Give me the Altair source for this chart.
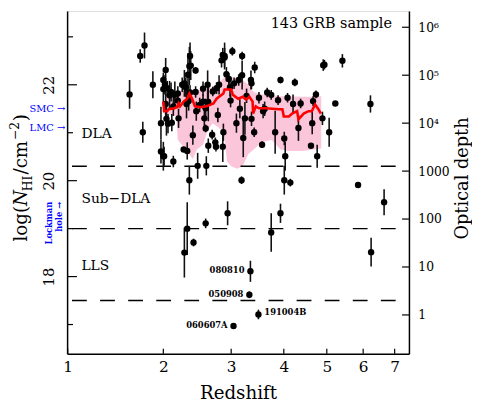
import json
import altair as alt
import pandas as pd

# ---------------- data ----------------
z_vals = [1.60, 1.72, 1.77, 1.75, 1.87, 1.97, 1.97, 2.00, 2.01, 2.00, 2.00, 2.02, 2.03, 2.04, 2.06, 2.05,
          2.08, 2.11, 2.13, 2.15, 2.20, 2.19, 2.27, 2.28, 2.32, 2.33, 2.35, 2.36, 2.36, 2.34, 2.40, 2.35,
          2.32, 2.28, 2.41, 2.44, 2.44, 2.47, 2.50, 2.55, 2.57, 2.59, 2.60, 2.59, 2.63, 2.69, 2.74, 2.75,
          2.70, 2.76, 2.78, 2.84, 2.86, 2.89, 2.87, 2.86, 2.92, 2.94, 2.96, 2.99, 3.02, 3.05, 3.04, 3.13,
          3.19, 3.18, 3.21, 3.24, 3.27, 3.36, 3.36, 3.41, 3.34, 3.32, 3.49, 3.42, 3.50, 3.56, 3.61, 3.66,
          3.74, 3.74, 3.82, 3.88, 3.93, 3.93, 4.01, 4.03, 4.01, 4.08, 4.14, 4.20, 4.24, 4.32, 4.37, 4.61,
          4.64, 4.66, 4.73, 4.76, 4.91, 4.94, 4.89, 5.06, 5.22, 5.41, 5.85, 6.22, 6.24, 6.65,
          2.13, 2.19, 2.37, 2.55, 2.59, 2.62, 2.63, 3.09, 3.19, 3.35, 3.58, 2.89, 2.03, 2.10, 2.25, 2.30,
          2.31, 2.45, 2.80, 3.15, 2.98]
logN_vals = [21.80, 22.60, 22.82, 21.01, 22.00, 21.20, 20.61, 20.51, 20.51, 21.91, 22.10, 22.00, 22.31, 21.29,
             21.19, 21.93, 21.78, 21.21, 20.40, 21.79, 21.30, 21.67, 20.65, 22.03, 20.62, 22.21, 22.39, 22.60,
             21.84, 21.66, 20.95, 20.01, 19.00, 18.50, 18.71, 22.30, 21.85, 20.31, 21.58, 21.92, 21.30, 21.09,
             20.31, 19.11, 21.64, 20.96, 20.80, 20.71, 21.86, 21.93, 21.37, 22.51, 22.62, 22.60, 21.01, 20.71,
             22.22, 19.32, 22.12, 21.67, 22.70, 22.03, 16.97, 22.10, 22.60, 20.01, 20.89, 21.30, 21.77, 22.03,
             21.29, 21.01, 18.11, 17.62, 17.21, 22.36, 21.73, 20.75, 21.50, 21.84, 21.79, 18.92, 21.01, 21.68,
             22.10, 19.32, 20.88, 20.51, 20.01, 21.73, 19.96, 21.60, 22.05, 21.10, 21.61, 20.73, 21.20, 21.66,
             21.80, 20.51, 22.41, 22.42, 21.30, 21.01, 21.61, 22.50, 19.91, 21.60, 18.51, 19.55,
             21.55, 21.82, 22.40, 21.65, 21.51, 22.00, 20.73, 21.20, 22.20, 22.10, 21.45, 22.57, 21.60, 21.85,
             22.00, 21.95, 21.60, 21.45, 22.00, 21.50, 21.95]
err_vals = [0.30, 0.14, 0.27, 0.22, 0.28, 0.34, 0.25, 0.30, 0.20, 0.28, 0.15, 0.20, 0.25, 0.35, 0.20, 0.15,
            0.30, 0.18, 0.12, 0.28, 0.20, 0.15, 0.05, 0.28, 0.18, 0.45, 0.40, 0.28, 0.15, 0.20, 0.20, 0.30,
            0.55, 0.52, 0.08, 0.07, 0.12, 0.27, 0.15, 0.15, 0.17, 0.08, 0.20, 0.10, 0.40, 0.10, 0.10, 0.10,
            0.10, 0.12, 0.15, 0.15, 0.15, 0.28, 0.18, 0.32, 0.15, 0.25, 0.12, 0.14, 0.09, 0.12, 0.00, 0.12,
            0.09, 0.08, 0.40, 0.34, 0.15, 0.12, 0.15, 0.10, 0.22, 0.07, 0.10, 0.12, 0.12, 0.07, 0.15, 0.10,
            0.10, 0.40, 0.45, 0.10, 0.07, 0.20, 0.14, 0.30, 0.30, 0.10, 0.08, 0.20, 0.08, 0.27, 0.10, 0.05,
            0.23, 0.10, 0.08, 0.24, 0.12, 0.10, 0.14, 0.30, 0.03, 0.14, 0.00, 0.18, 0.30, 0.27,
            0.20, 0.15, 0.30, 0.15, 0.20, 0.30, 0.15, 0.20, 0.30, 0.20, 0.15, 0.20, 0.30, 0.20, 0.15, 0.20,
            0.30, 0.20, 0.20, 0.20, 0.20]

band_z = [2.03, 2.17, 2.19, 2.30, 2.40, 2.46, 2.55, 2.62, 2.70, 2.80, 2.88, 2.93, 3.00, 3.10, 3.20, 3.30,
          3.40, 3.55, 3.75, 3.93, 4.10, 4.40, 4.70, 4.86]
band_lo = [21.40, 21.35, 20.85, 20.65, 20.45, 20.65, 20.75, 21.05, 21.20, 21.10, 21.00, 20.40, 20.30, 20.25,
           20.30, 20.55, 20.65, 20.80, 20.85, 20.65, 20.62, 20.62, 20.65, 20.67]
band_hi = [21.80, 21.82, 21.85, 21.88, 21.88, 21.88, 21.90, 21.92, 21.95, 22.05, 22.15, 22.20, 22.16, 22.12,
           22.10, 22.00, 21.85, 21.80, 21.78, 21.76, 21.76, 21.75, 21.75, 21.76]

med_z = [2.00, 2.01, 2.05, 2.07, 2.14, 2.18, 2.20, 2.22, 2.27, 2.32, 2.35, 2.39, 2.43, 2.51, 2.60, 2.71,
         2.76, 2.87, 2.89, 3.00, 3.03, 3.12, 3.20, 3.26, 3.32, 3.38, 3.39, 3.44, 3.50, 3.63, 3.90, 3.97,
         4.00, 4.11, 4.18, 4.29, 4.32, 4.44, 4.55, 4.63, 4.71, 4.79, 4.85]
med_logN = [21.65, 21.45, 21.45, 21.49, 21.51, 21.53, 21.61, 21.55, 21.65, 21.71, 21.82, 21.71, 21.55, 21.53,
            21.55, 21.61, 21.71, 21.82, 21.90, 21.90, 21.79, 21.71, 21.75, 21.69, 21.75, 21.65, 21.40, 21.55,
            21.51, 21.51, 21.49, 21.49, 21.34, 21.34, 21.40, 21.45, 21.28, 21.40, 21.45, 21.45, 21.59, 21.49,
            21.40]

class_limits = [20.3, 19.0, 17.5]
class_names = ["DLA", "Sub\u2212DLA", "LLS"]
class_label_logN = [20.97, 19.62, 18.22]
class_label_z = 1.12

grb_left_names = ["080810", "050908", "060607A"]
grb_left_z = [3.34, 3.32, 3.04]
grb_left_logN = [18.13, 17.64, 16.99]
grb_right_names = ["191004B"]
grb_right_z = [3.49]
grb_right_logN = [17.25]

ref_names = ["SMC \u2192", "LMC \u2192"]
ref_logN = [21.49, 21.10]
lockman_logN = 19.56

x_ticks = [1, 2, 3, 4, 5, 6, 7]
y_major = [18, 20, 22]
y_minor = [17, 19, 21, 23]
tau_exp = [0, 1, 2, 3, 4, 5, 6]
tau_labels = ["1", "10", "100", "1000", "10\u2074", "10\u2075", "10\u2076"]
tau_offset = 17.2   # log N_HI at optical depth 1

# ---------------- styling ----------------
W, H = 347, 348
FONT = "DejaVu Serif"
XS = alt.Scale(type="log", domain=[1.995, 8.5], nice=False)
YS = alt.Scale(domain=[16.39, 23.54], nice=False, zero=False)
BLUE = "#0000ff"


def xenc(axis=None):
    return alt.X("zp1:Q", scale=XS, axis=axis)


def yenc(field, axis=None):
    return alt.Y(field, type="quantitative", scale=YS, axis=axis)


pts = pd.DataFrame({"z": z_vals, "logN": logN_vals, "err": err_vals})
band = pd.DataFrame({"z": band_z, "lo": band_lo, "hi": band_hi})
med = pd.DataFrame({"z": med_z, "logN": med_logN})

x_axis = alt.Axis(values=[t + 1 for t in x_ticks], labelExpr="format(datum.value - 1, 'd')",
                  title="Redshift", ticks=False, tickSize=0, grid=False, domain=True,
                  domainColor="black", domainWidth=1.5, labelFont=FONT, labelFontSize=15.5,
                  labelColor="black", labelPadding=6, labelFlush=False, labelOverlap=False,
                  titleFont=FONT, titleFontSize=18.5, titleFontWeight="normal", titleColor="black",
                  titlePadding=9)
y_axis = alt.Axis(orient="left", values=y_minor + y_major,
                  labelExpr="datum.value % 2 == 0 ? format(datum.value, 'd') : ''",
                  labelAngle=270, labelAlign="center", labelBaseline="bottom", labelPadding=11,
                  ticks=False, tickSize=0, grid=False, domain=True, domainColor="black", domainWidth=1.5,
                  labelFont=FONT, labelFontSize=15, labelColor="black", labelOverlap=False, title=None)
tau_axis = alt.Axis(orient="right", values=[e + tau_offset for e in tau_exp],
                    labelExpr=json.dumps(tau_labels, ensure_ascii=False) + "[round(datum.value - %s)]" % tau_offset,
                    ticks=False, tickSize=0, grid=False, domain=True, domainColor="black", domainWidth=1.5,
                    labelFont=FONT, labelFontSize=12.5, labelColor="black", labelPadding=9,
                    labelAlign="left", labelOverlap=False, title=None)

band_layer = alt.Chart(band).transform_calculate(zp1="datum.z + 1").mark_area(
    color="#fbc6da", opacity=1).encode(x=xenc(), y=yenc("lo"), y2="hi")

limits_layer = alt.Chart(pd.DataFrame({"y": class_limits})).mark_rule(
    color="black", strokeWidth=1.4, strokeDash=[15, 13.5], strokeDashOffset=15).encode(y=yenc("y"))

err_layer = alt.Chart(pts).transform_calculate(
    zp1="datum.z + 1", lo="datum.logN - datum.err", hi="datum.logN + datum.err").mark_rule(
    color="#111111", strokeWidth=1.6).encode(x=xenc(), y=yenc("lo"), y2="hi")

pt_layer = alt.Chart(pts).transform_calculate(zp1="datum.z + 1").mark_circle(
    color="black", opacity=1, size=42).encode(x=xenc(x_axis), y=yenc("logN", y_axis))

med_layer = alt.Chart(med).transform_calculate(zp1="datum.z + 1").mark_line(
    color="#ff0000", strokeWidth=2.6).encode(x=xenc(), y=yenc("logN"))

grb_l = alt.Chart(pd.DataFrame({"z": grb_left_z, "logN": grb_left_logN, "name": grb_left_names})
                  ).transform_calculate(zp1="datum.z + 1").mark_text(
    align="right", baseline="middle", dx=-6, font=FONT, fontSize=8.5, fontWeight="bold", color="black"
).encode(x=xenc(), y=yenc("logN"), text="name:N")
grb_r = alt.Chart(pd.DataFrame({"z": grb_right_z, "logN": grb_right_logN, "name": grb_right_names})
                  ).transform_calculate(zp1="datum.z + 1").mark_text(
    align="left", baseline="middle", dx=6, font=FONT, fontSize=8.5, fontWeight="bold", color="black"
).encode(x=xenc(), y=yenc("logN"), text="name:N")

class_layer = alt.Chart(pd.DataFrame({"z": [class_label_z] * 3, "logN": class_label_logN, "name": class_names})
                        ).transform_calculate(zp1="datum.z + 1").mark_text(
    align="left", baseline="middle", font=FONT, fontSize=14, color="black"
).encode(x=xenc(), y=yenc("logN"), text="name:N")

sample_layer = alt.Chart(pd.DataFrame({"z": [6.91], "logN": [23.27], "name": ["143 GRB sample"]})
                         ).transform_calculate(zp1="datum.z + 1").mark_text(
    align="right", baseline="middle", font=FONT, fontSize=14.6, color="black"
).encode(x=xenc(), y=yenc("logN"), text="name:N")

ref_layer = alt.Chart(pd.DataFrame({"logN": ref_logN, "name": ref_names})).mark_text(
    align="right", baseline="middle", font=FONT, fontSize=10, color=BLUE
).encode(x=alt.value(-2), y=yenc("logN"), text="name:N")

lock1 = alt.Chart(pd.DataFrame({"logN": [lockman_logN]})).mark_text(
    text="Lockman", angle=270, align="right", baseline="middle", font=FONT, fontSize=8.5,
    fontWeight="bold", color=BLUE).encode(x=alt.value(-18.5), y=yenc("logN"))
lock2 = alt.Chart(pd.DataFrame({"logN": [lockman_logN]})).mark_text(
    text="hole \u2192", angle=270, align="right", baseline="middle", font=FONT, fontSize=8.5,
    fontWeight="bold", color=BLUE).encode(x=alt.value(-8.5), y=yenc("logN"))

# tick marks drawn inward
xt_layer = alt.Chart(pd.DataFrame({"z": x_ticks})).transform_calculate(zp1="datum.z + 1").mark_rule(
    color="black", strokeWidth=1.2).encode(x=xenc(), y=alt.value(H - 5), y2=alt.value(H))
ymaj_layer = alt.Chart(pd.DataFrame({"y": y_major})).mark_rule(color="black", strokeWidth=1.2).encode(
    y=yenc("y"), x=alt.value(0), x2=alt.value(10))
ymin_layer = alt.Chart(pd.DataFrame({"y": y_minor})).mark_rule(color="black", strokeWidth=1.2).encode(
    y=yenc("y"), x=alt.value(0), x2=alt.value(6))
tau_layer = alt.Chart(pd.DataFrame({"e": tau_exp})).transform_calculate(
    yN="datum.e + %s" % tau_offset).mark_rule(color="black", strokeWidth=1.2).encode(
    y=yenc("yN", tau_axis), x=alt.value(W - 7), x2=alt.value(W))

# axis titles built as text (sub/superscripts)
one = pd.DataFrame({"a": [0]})
TF = 18.5
SF = 12.5


def piece(txt, xv, yv, size, style="normal"):
    return alt.Chart(one).mark_text(text=txt, angle=270, align="left", baseline="alphabetic",
                                    font=FONT, fontSize=size, fontStyle=style, color="black"
                                    ).encode(x=alt.value(xv), y=alt.value(yv))


BX = -41
ytitle = [
    piece("log(", BX, 234, TF),
    piece("N", BX, 198, TF, "italic"),
    piece("HI", BX + 5, 183, SF),
    piece("/cm", BX, 166, TF),
    piece("\u22122", BX - 8, 131, SF),
    piece(")", BX, 112, TF),
]
rtitle = alt.Chart(one).mark_text(text="Optical depth", angle=270, align="center", baseline="middle",
                                  font=FONT, fontSize=18, color="black").encode(
    x=alt.value(W + 55), y=alt.value(170))

chart = alt.layer(
    band_layer, limits_layer, err_layer, pt_layer, med_layer, grb_l, grb_r, class_layer, sample_layer,
    ref_layer, lock1, lock2, xt_layer, ymaj_layer, ymin_layer, tau_layer, *ytitle, rtitle
).resolve_axis(x="independent", y="independent").properties(
    width=W, height=H,
    autosize=alt.AutoSizeParams(type="none"),
    padding={"left": 60, "top": 0, "right": 64, "bottom": 49},
).configure_view(stroke=None).configure(background="white")

chart.save("out.html", embed_options={"renderer": "svg", "actions": False})
